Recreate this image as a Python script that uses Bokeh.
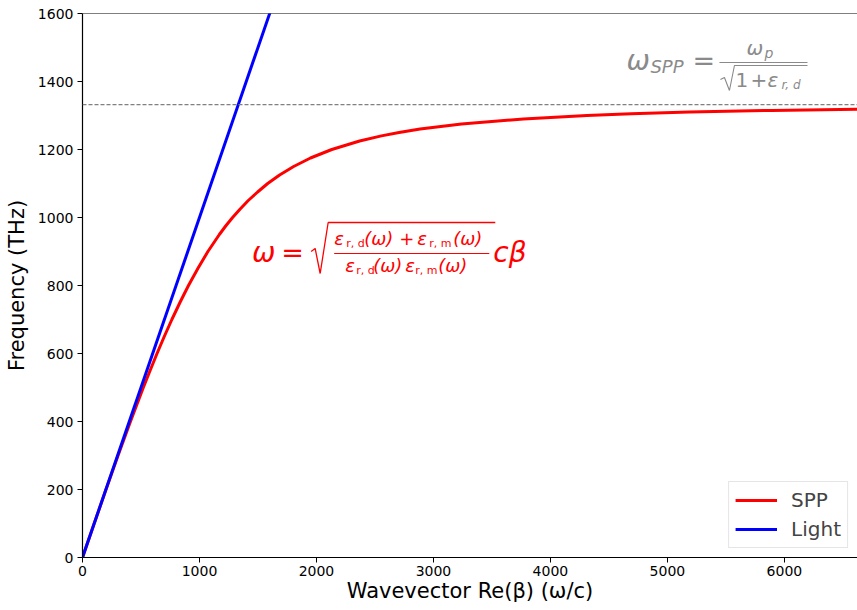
from bokeh.plotting import figure
from bokeh.models import Range1d, Label, Span, Legend, LegendItem, FixedTicker
from bokeh.embed import file_html
from bokeh.resources import INLINE

# ---- data ----
spp_beta = [0, 100, 201, 304, 410, 520, 578, 637, 699, 764, 833, 906, 986, 1072, 1170, 1224,
            1283, 1348, 1417, 1497, 1583, 1685, 1805, 1949, 2131, 2369, 2555, 2706, 2886,
            3240, 3769, 4312, 4690, 5188, 5893, 6998]
spp_freq = [0, 100, 200, 300, 400, 500, 550, 600, 650, 700, 750, 800, 850, 900, 950, 975,
            1000, 1025, 1050, 1075, 1100, 1125, 1150, 1175, 1200, 1225, 1240, 1250, 1260,
            1275, 1290, 1300, 1305, 1310, 1315, 1320]
light_beta = [0, 1700]
light_freq = [0, 1700]
spp_asymptote = 1332
x_ticks = [0, 1000, 2000, 3000, 4000, 5000, 6000]
y_ticks = [0, 200, 400, 600, 800, 1000, 1200, 1400, 1600]

RED = "#ff0000"
BLUE = "#0000ff"
GRAY = "#8a8a8a"

p = figure(width=857, height=610, output_backend="svg", toolbar_location=None,
           x_range=Range1d(0, 6625), y_range=Range1d(0, 1600),
           min_border_left=82, min_border_right=0, min_border_top=13, min_border_bottom=53)
p.outline_line_color = None
p.grid.visible = False
p.background_fill_color = "white"
p.border_fill_color = "white"

r_spp = p.line(spp_beta, spp_freq, line_color=RED, line_width=3, line_join="round")
r_light = p.line(light_beta, light_freq, line_color=BLUE, line_width=3)

p.add_layout(Span(location=spp_asymptote, dimension="width", line_color="#808080",
                  line_dash="4 2", line_width=1.2))
p.add_layout(Span(location=1600, dimension="width", line_color="black", line_width=1.2))

for ax in (p.xaxis[0], p.yaxis[0]):
    ax.major_label_text_font = "DejaVu Sans"
    ax.major_label_text_font_size = "14px"
    ax.major_label_text_color = "black"
    ax.major_tick_out = 5
    ax.major_tick_in = 0
    ax.minor_tick_line_color = None
    ax.axis_line_color = "black"
    ax.axis_line_width = 1.2
    ax.major_tick_line_width = 1
    ax.axis_label_text_font = "DejaVu Sans"
    ax.axis_label_text_font_size = "21px"
    ax.axis_label_text_font_style = "normal"
    ax.axis_label_text_color = "black"
    ax.major_label_standoff = 4

p.xaxis[0].ticker = FixedTicker(ticks=x_ticks)
p.yaxis[0].ticker = FixedTicker(ticks=y_ticks)
p.xaxis[0].axis_label = "Wavevector Re(β) (ω/c)"
p.yaxis[0].axis_label = "Frequency (THz)"
p.xaxis[0].major_label_standoff = 3
p.xaxis[0].axis_label_standoff = 0
p.yaxis[0].axis_label_standoff = 6

legend = Legend(items=[LegendItem(label="SPP", renderers=[r_spp]),
                       LegendItem(label="Light", renderers=[r_light])],
                location="bottom_right")
legend.label_text_font = "DejaVu Sans"
legend.label_text_font_size = "20px"
legend.glyph_width = 42
legend.glyph_height = 24
legend.label_height = 24
legend.spacing = 5
legend.padding = 6
legend.margin = 9
legend.label_standoff = 14
legend.border_line_color = "#cccccc"
legend.border_line_width = 1
legend.background_fill_alpha = 0.9
p.add_layout(legend)

# ---- formula annotations (positions in pixel space, converted to data) ----
X0, Y0, SX, SY = 82.5, 557.0, 0.1169, 0.34


def dx(px):
    return (px - X0) / SX


def dy(py):
    return (Y0 - py) / SY


def lab(px, py, text, size, color, style="normal"):
    p.add_layout(Label(x=dx(px), y=dy(py), text=text, text_font="DejaVu Sans",
                       text_font_size=f"{size}px", text_color=color,
                       text_font_style=style, text_align="left", text_baseline="middle"))


def stroke(pts, color, w):
    p.line([dx(a) for a, b in pts], [dy(b) for a, b in pts], line_color=color, line_width=w)


# red dispersion formula
lab(252, 252, "ω", 28, RED, "italic")
lab(281, 252, "=", 27, RED)
stroke([(311, 251), (315, 248), (320, 273), (328, 222), (495, 222)], RED, 1.3)
lab(334, 238, "ε", 18, RED, "italic")
lab(346, 243, "r, d", 11, RED)
lab(364, 238, "(ω)", 18, RED, "italic")
lab(399, 238, "+", 18, RED)
lab(417, 238, "ε", 18, RED, "italic")
lab(429, 243, "r, m", 11, RED)
lab(453, 238, "(ω)", 18, RED, "italic")
stroke([(334, 253), (489, 253)], RED, 1.2)
lab(345, 265, "ε", 18, RED, "italic")
lab(356, 270, "r, d", 11, RED)
lab(373, 265, "(ω)", 18, RED, "italic")
lab(405, 265, "ε", 18, RED, "italic")
lab(415, 270, "r, m", 11, RED)
lab(438, 265, "(ω)", 18, RED, "italic")
lab(493, 252, "cβ", 28, RED, "italic")

# gray surface plasmon frequency formula
lab(626, 60, "ω", 28, GRAY, "italic")
lab(650, 66, "SPP", 18, GRAY, "italic")
lab(692, 60, "=", 27, GRAY)
lab(746, 47, "ω", 20, GRAY, "italic")
lab(764, 52, "p", 14, GRAY, "italic")
stroke([(719, 62), (807, 62)], GRAY, 1.2)
stroke([(720, 79), (724, 77), (729, 90), (734, 65), (807, 65)], GRAY, 1.1)
lab(735, 79, "1", 20, GRAY)
lab(750, 79, "+", 20, GRAY)
lab(767, 79, "ε", 20, GRAY, "italic")
lab(781, 84, "r, d", 12, GRAY, "italic")

open("out.html", "w").write(file_html(p, INLINE))
